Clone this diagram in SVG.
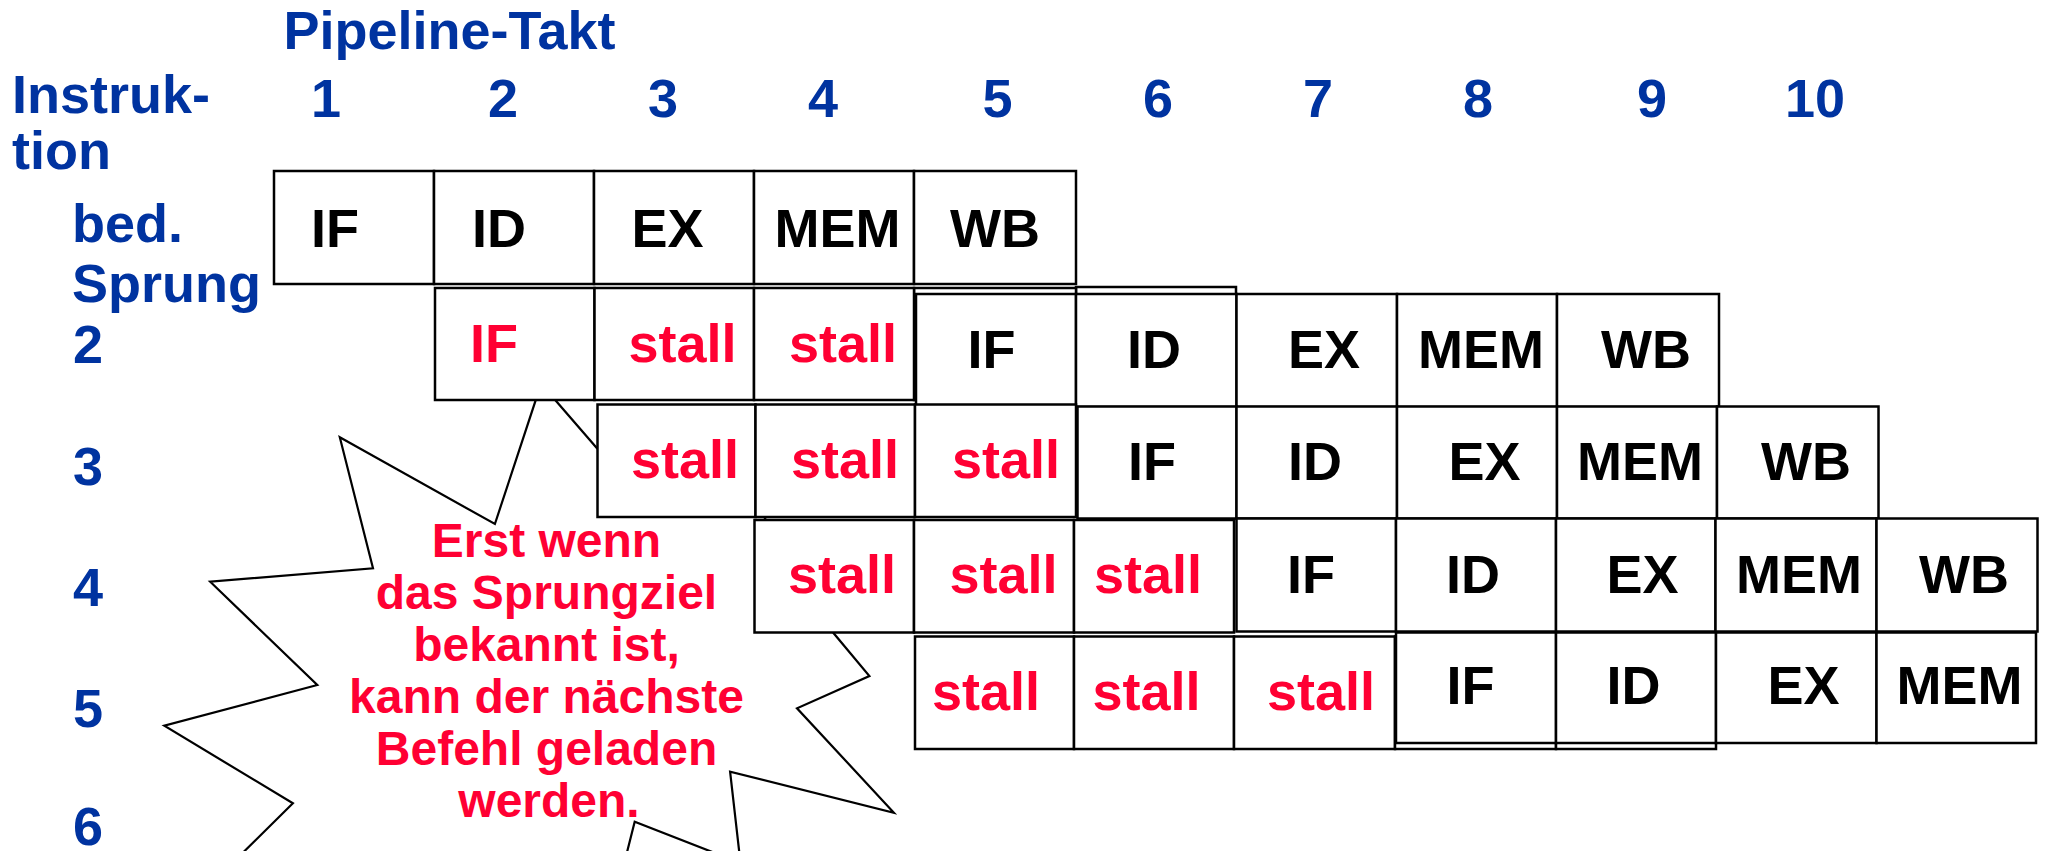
<svg xmlns="http://www.w3.org/2000/svg" width="2047" height="851" viewBox="0 0 2047 851">
<style>
.cell{fill:#fff;stroke:#000;stroke-width:2.5}
.t{font-family:"Liberation Sans",Arial,sans-serif;font-weight:bold;font-size:54px}
.m{text-anchor:middle}
.blk{fill:#000}
.red{fill:#FF0033}
.blue{fill:#0033A0}
.star{fill:#fff;stroke:#000;stroke-width:2.2;stroke-linejoin:miter}
.note{font-family:"Liberation Sans",Arial,sans-serif;font-weight:bold;font-size:48px;text-anchor:middle;fill:#FF0033}
</style>
<rect width="2047" height="851" fill="#fff"/>

<g id="callout">
<polygon class="star" points="339.8,437.3 494.9,524 541.1,383.8 597,448.3 760,510 833.7,633.3 869.4,676 797,708.3 893.9,812.7 730.1,771.7 740.5,863 634.7,821.7 615,900 420,905 200,895 292.9,803.3 164.3,725.7 317.3,685 210.2,581.7 373,568.3"/>
</g>

<g id="headers">
<text class="t blue" x="283.5" y="49">Pipeline-Takt</text>
<text class="t blue" x="12" y="113">Instruk-</text>
<text class="t blue" x="12" y="169">tion</text>
<g class="t blue m">
<text x="326" y="117">1</text>
<text x="503" y="117">2</text>
<text x="663" y="117">3</text>
<text x="823" y="117">4</text>
<text x="997.5" y="117">5</text>
<text x="1158" y="117">6</text>
<text x="1318" y="117">7</text>
<text x="1478" y="117">8</text>
<text x="1652" y="117">9</text>
<text x="1815" y="117">10</text>
</g>
<text class="t blue" x="72" y="242">bed.</text>
<text class="t blue" x="72" y="302">Sprung</text>
<text class="t blue" x="73" y="363">2</text>
<text class="t blue" x="73" y="485">3</text>
<text class="t blue" x="73" y="606">4</text>
<text class="t blue" x="73" y="727">5</text>
<text class="t blue" x="73" y="845">6</text>
</g>

<g id="row1">
<rect class="cell" x="274" y="171" width="160" height="113"/>
<rect class="cell" x="434" y="171" width="160" height="113"/>
<rect class="cell" x="594" y="171" width="160" height="113"/>
<rect class="cell" x="754" y="171" width="160" height="113"/>
<rect class="cell" x="914" y="171" width="162" height="113"/>
<g class="t m blk">
<text x="335" y="247">IF</text>
<text x="499" y="247">ID</text>
<text x="667.5" y="247">EX</text>
<text x="837.5" y="247">MEM</text>
<text x="995" y="247">WB</text>
</g>
</g>

<g id="row2-stalls">
<rect class="cell" x="1076" y="287" width="160" height="113"/>
<rect class="cell" x="914" y="288" width="162" height="112"/>
<rect class="cell" x="435" y="288" width="159.5" height="112"/>
<rect class="cell" x="594.5" y="288" width="159.5" height="112"/>
<rect class="cell" x="754" y="288" width="160" height="112"/>
<g class="t m red">
<text x="494" y="362">IF</text>
<text x="682.5" y="362">stall</text>
<text x="843" y="362">stall</text>
</g>
</g>

<g id="row2-stages">
<rect class="cell" x="916" y="294" width="160" height="113"/>
<rect class="cell" x="1076" y="294" width="160.5" height="113"/>
<rect class="cell" x="1236.5" y="294" width="160.5" height="113"/>
<rect class="cell" x="1397" y="294" width="160" height="113"/>
<rect class="cell" x="1557" y="294" width="162" height="113"/>
<g class="t m blk">
<text x="991.5" y="368">IF</text>
<text x="1154" y="368">ID</text>
<text x="1324" y="368">EX</text>
<text x="1481" y="368">MEM</text>
<text x="1646" y="368">WB</text>
</g>
</g>

<g id="row3-stalls">
<rect class="cell" x="597.5" y="404.5" width="158" height="112.5"/>
<rect class="cell" x="755.5" y="404.5" width="159.5" height="112.5"/>
<rect class="cell" x="915" y="404.5" width="161" height="112.5"/>
<g class="t m red">
<text x="685" y="478">stall</text>
<text x="845" y="478">stall</text>
<text x="1006" y="478">stall</text>
</g>
</g>

<g id="row3-stages">
<rect class="cell" x="1077.5" y="406.5" width="159" height="112"/>
<rect class="cell" x="1236.5" y="406.5" width="160.5" height="112"/>
<rect class="cell" x="1397" y="406.5" width="160" height="112"/>
<rect class="cell" x="1557" y="406.5" width="160" height="112"/>
<rect class="cell" x="1717" y="406.5" width="161.5" height="112"/>
<g class="t m blk">
<text x="1152" y="480">IF</text>
<text x="1315" y="480">ID</text>
<text x="1484.5" y="480">EX</text>
<text x="1640" y="480">MEM</text>
<text x="1806" y="480">WB</text>
</g>
</g>

<g id="row4-stalls">
<rect class="cell" x="754.5" y="520" width="159.5" height="112.5"/>
<rect class="cell" x="914" y="520" width="160" height="112.5"/>
<rect class="cell" x="1074" y="520" width="160" height="112.5"/>
<g class="t m red">
<text x="842" y="593">stall</text>
<text x="1003.5" y="593">stall</text>
<text x="1148" y="593">stall</text>
</g>
</g>

<g id="row4-stages">
<rect class="cell" x="1236.5" y="518.5" width="159.5" height="113"/>
<rect class="cell" x="1396" y="518.5" width="160" height="113"/>
<rect class="cell" x="1556" y="518.5" width="159.5" height="113"/>
<rect class="cell" x="1715.5" y="518.5" width="161" height="113"/>
<rect class="cell" x="1876.5" y="518.5" width="161" height="113"/>
<g class="t m blk">
<text x="1311" y="593">IF</text>
<text x="1473" y="593">ID</text>
<text x="1642.5" y="593">EX</text>
<text x="1799" y="593">MEM</text>
<text x="1964" y="593">WB</text>
</g>
</g>

<g id="row5-stalls">
<rect class="cell" x="915" y="636.5" width="159" height="112.5"/>
<rect class="cell" x="1074" y="636.5" width="160" height="112.5"/>
<rect class="cell" x="1234" y="636.5" width="161" height="112.5"/>
<rect class="cell" x="1395" y="636.5" width="161" height="112.5"/>
<rect class="cell" x="1556" y="636.5" width="160" height="112.5"/>
<g class="t m red">
<text x="986" y="710">stall</text>
<text x="1146.5" y="710">stall</text>
<text x="1321" y="710">stall</text>
</g>
</g>

<g id="row5-stages">
<rect class="cell" x="1396" y="632.5" width="160" height="110.5"/>
<rect class="cell" x="1556" y="632.5" width="160" height="110.5"/>
<rect class="cell" x="1716" y="632.5" width="160.5" height="110.5"/>
<rect class="cell" x="1876.5" y="632.5" width="159.5" height="110.5"/>
<g class="t m blk">
<text x="1470.5" y="704">IF</text>
<text x="1633.5" y="704">ID</text>
<text x="1803.5" y="704">EX</text>
<text x="1959.5" y="704">MEM</text>
</g>
</g>

<g id="callout-text">
<text class="note" x="546.5" y="556.5">Erst wenn</text>
<text class="note" x="546.5" y="609">das Sprungziel</text>
<text class="note" x="546.5" y="661">bekannt ist,</text>
<text class="note" x="546.5" y="713">kann der nächste</text>
<text class="note" x="546.5" y="765">Befehl geladen</text>
<text class="note" x="549" y="816.5">werden.</text>
</g>

<g id="connectors"/>
</svg>
